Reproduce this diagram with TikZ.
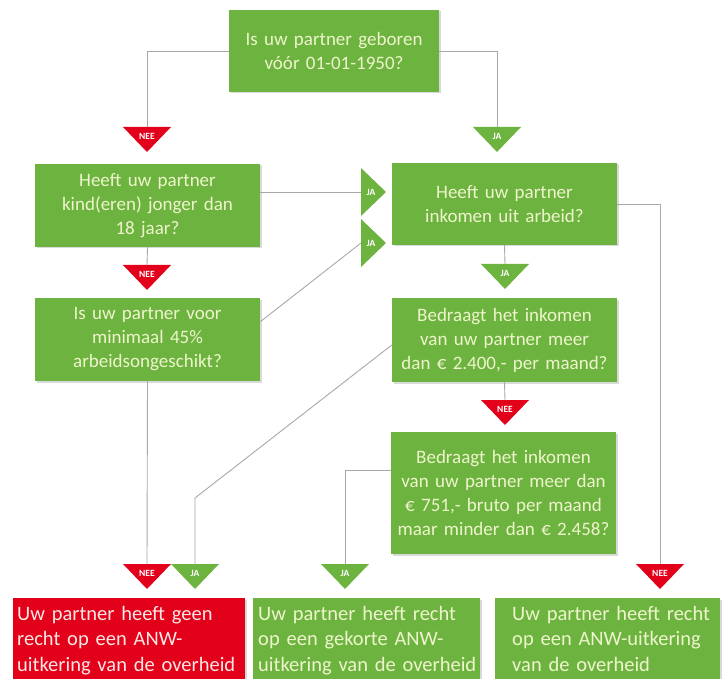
\documentclass[tikz,border=0pt]{standalone}
\usepackage{fontspec}
\setmainfont{Carlito}[WordSpace=0.6]
\usetikzlibrary{calc,shadows}
\definecolor{qgreen}{HTML}{6DB33F}
\definecolor{qred}{HTML}{E2001A}
\definecolor{qtext}{HTML}{EEF5CC}
\definecolor{rtext}{HTML}{FDE8E4}
\definecolor{lgray}{HTML}{A8A8A8}
\tikzset{
  boxshadow/.style={drop shadow={shadow xshift=1.5pt, shadow yshift=-1.5pt, opacity=0.3}},
  qbox/.style={fill=qgreen, text=qtext, align=center, inner xsep=1pt, inner ysep=0pt,
    font=\fontsize{19}{24}\selectfont, boxshadow},
  abox/.style={anchor=north west, minimum height=92pt, boxshadow},
  atext/.style={anchor=north west, align=left, inner sep=0pt, text width=300pt,
    font=\fontsize{20.5}{25.5}\selectfont},
  conn/.style={draw=lgray, line width=0.9pt},
  trilab/.style={text=white, font=\bfseries\fontsize{9.5}{9.5}\selectfont, inner sep=0pt},
}
\newcommand\dtri[3]{\fill[#2] ($(#1)+(-24,0)$) -- ($(#1)+(24,0)$) -- ($(#1)+(0,25)$) -- cycle;
  \node[trilab] (#1-l) at ($(#1)+(0,9.5)$) {#3};}
\newcommand\rtri[3]{\fill[#2] ($(#1)+(0,-24)$) -- ($(#1)+(0,24)$) -- ($(#1)+(25,0)$) -- cycle;
  \node[trilab] (#1-l) at ($(#1)+(10,0)$) {#3};}
\begin{document}
\begin{tikzpicture}[x=1pt,y=-1pt]
\useasboundingbox (0,0) rectangle (723,679);
% triangle anchor coordinates
\coordinate (tA) at (147,127);
\coordinate (tB) at (497,127);
\coordinate (tC) at (147,265);
\coordinate (tD) at (361,192);
\coordinate (tE) at (361,243);
\coordinate (tF) at (505,264);
\coordinate (tG) at (505,400);
\coordinate (tH) at (147,564);
\coordinate (tI) at (195,564);
\coordinate (tJ) at (345,564);
\coordinate (tK) at (660,564);
\coordinate (bendI) at (195,498);
% question boxes
\node[qbox, minimum width=210pt, text width=208pt, minimum height=82pt] (q1) at (334,51)
  {Is uw partner geboren\\vóór 01-01-1950?};
\node[qbox, minimum width=225pt, text width=223pt, minimum height=83pt] (q2) at (147.5,205.5)
  {Heeft uw partner\\kind(eren) jonger dan\\18 jaar?};
\node[qbox, minimum width=225pt, text width=223pt, minimum height=82pt] (q3) at (504.5,204)
  {Heeft uw partner\\inkomen uit arbeid?};
\node[qbox, minimum width=225pt, text width=223pt, minimum height=83pt] (q4) at (147.5,339.5)
  {Is uw partner voor\\minimaal 45\%\\arbeidsongeschikt?};
\node[qbox, minimum width=225pt, text width=223pt, minimum height=84pt] (q5) at (504.5,340)
  {Bedraagt het inkomen\\van uw partner meer\\dan € 2.400,- per maand?};
\node[qbox, minimum width=225pt, text width=223pt, minimum height=122pt] (q6) at (503.5,493)
  {Bedraagt het inkomen\\van uw partner meer dan\\€ 751,- bruto per maand\\maar minder dan € 2.458?};
% answer boxes
\node[abox, fill=qred, minimum width=232pt] (r1) at (13,598) {};
\node[abox, fill=qgreen, minimum width=227pt] (r2) at (253,598) {};
\node[abox, fill=qgreen, minimum width=225pt] (r3) at (495,598) {};
\node[atext, text=rtext] (r1t) at ($(r1.north west)+(4,8)$)
  {Uw partner heeft geen\\recht op een ANW-\\uitkering van de overheid};
\node[atext, text=qtext] (r2t) at ($(r2.north west)+(5,8)$)
  {Uw partner heeft recht\\op een gekorte ANW-\\uitkering van de overheid};
\node[atext, text=qtext] (r3t) at ($(r3.north west)+(17,8)$)
  {Uw partner heeft recht\\op een ANW-uitkering\\van de overheid};
% connectors
\draw[conn] (q1.west) -| (tA);
\draw[conn] (q1.east) -| (tB);
\draw[conn] (q2.south) -- (tC);
\draw[conn] (tD -| q2.east) -- (tD);
\draw[conn] ($(q4.north east)+(0,24)$) -- (tE);
\draw[conn] (q3.south) -- (tF);
\draw[conn] (q3.east) -| (tK);
\draw[conn] (q5.south) -- (tG);
\draw[conn] (q4.south) -- (tH);
\draw[conn] ($(q5.west)+(0,5)$) -- (bendI) -- (tI);
\draw[conn] ($(q6.west)+(0,-23)$) -| (tJ);
\draw[conn] ($(q6.east)+(0,-21)$) -- ($(q6.east)+(0,-21)$ -| tK);
% triangles
\dtri{tA}{qred}{NEE}
\dtri{tB}{qgreen}{JA}
\dtri{tC}{qred}{NEE}
\rtri{tD}{qgreen}{JA}
\rtri{tE}{qgreen}{JA}
\dtri{tF}{qgreen}{JA}
\dtri{tG}{qred}{NEE}
\dtri{tH}{qred}{NEE}
\dtri{tI}{qgreen}{JA}
\dtri{tJ}{qgreen}{JA}
\dtri{tK}{qred}{NEE}
\end{tikzpicture}
\end{document}
